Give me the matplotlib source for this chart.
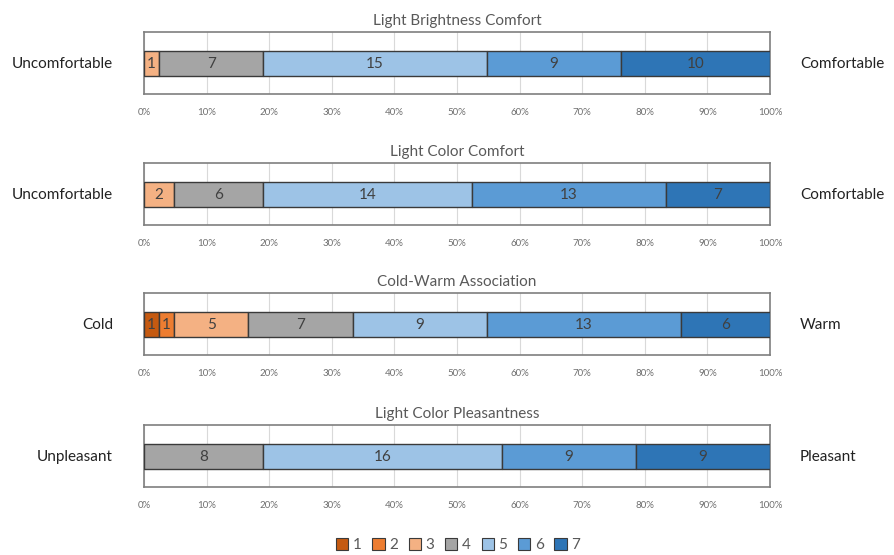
import matplotlib
matplotlib.use("Agg")
import matplotlib.pyplot as plt
from matplotlib.patches import Patch
from matplotlib.ticker import PercentFormatter

plt.rcParams['font.family'] = ['Lato', 'DejaVu Sans']

titles = ["Light Brightness Comfort", "Light Color Comfort",
          "Cold-Warm Association", "Light Color Pleasantness"]
left_labels = ["Uncomfortable", "Uncomfortable", "Cold", "Unpleasant"]
right_labels = ["Comfortable", "Comfortable", "Warm", "Pleasant"]
levels = ["1", "2", "3", "4", "5", "6", "7"]

# response counts for levels 1..7
brightness = [0, 0, 1, 7, 15, 9, 10]
color_comfort = [0, 0, 2, 6, 14, 13, 7]
cold_warm = [1, 1, 5, 7, 9, 13, 6]
pleasantness = [0, 0, 0, 8, 16, 9, 9]
counts = [brightness, color_comfort, cold_warm, pleasantness]

colors = ["#c55a11", "#ed7d31", "#f4b183", "#a5a5a5", "#9dc3e6", "#5b9bd5", "#2e75b6"]

W, H = 894, 555
fig = plt.figure(figsize=(W / 100, H / 100), dpi=100)

box_tops = [32, 163, 293, 425]
box_h = 62
x0, x1 = 144, 770

for i, (row, top) in enumerate(zip(counts, box_tops)):
    ax = fig.add_axes([x0 / W, (H - top - box_h) / H, (x1 - x0) / W, box_h / H])
    total = sum(row)
    left = 0.0
    for v, c in zip(row, colors):
        if v == 0:
            continue
        w = v / total
        ax.barh(0, w, left=left, height=0.4, color=c, edgecolor="#3a3a3a", linewidth=1.0, zorder=3)
        ax.text(left + w / 2, 0, str(v), ha="center", va="center", fontsize=11,
                color="#404040", zorder=4)
        left += w
    ax.set_xlim(0, 1)
    ax.set_ylim(-0.49, 0.51)
    ax.set_yticks([])
    ax.set_xticks([k / 10 for k in range(11)])
    ax.xaxis.set_major_formatter(PercentFormatter(1.0, decimals=0))
    ax.tick_params(axis="x", length=0, labelsize=7, labelcolor="#6f6f6f", pad=10)
    ax.grid(axis="x", color="#d9d9d9", linewidth=0.8, zorder=0)
    for s in ax.spines.values():
        s.set_color("#7f7f7f")
        s.set_linewidth(1.2)
    ax.set_title(titles[i], fontsize=11, color="#595959", pad=5)
    fig.text(113 / W, (H - top - box_h / 2 - 1) / H, left_labels[i], ha="right", va="center",
             fontsize=11, color="#222222")
    fig.text(800 / W, (H - top - box_h / 2 - 1) / H, right_labels[i], ha="left", va="center",
             fontsize=11, color="#222222")

handles = [Patch(facecolor=c, edgecolor="#3a3a3a", linewidth=0.8, label=l) for c, l in zip(colors, levels)]
fig.legend(handles=handles, loc="center", bbox_to_anchor=(458 / W, (H - 545) / H), ncol=7,
           frameon=False, fontsize=11, handlelength=0.8, handleheight=0.8, handletextpad=0.3,
           columnspacing=0.7, labelcolor="#595959")

fig.savefig("out.png", dpi=100)
